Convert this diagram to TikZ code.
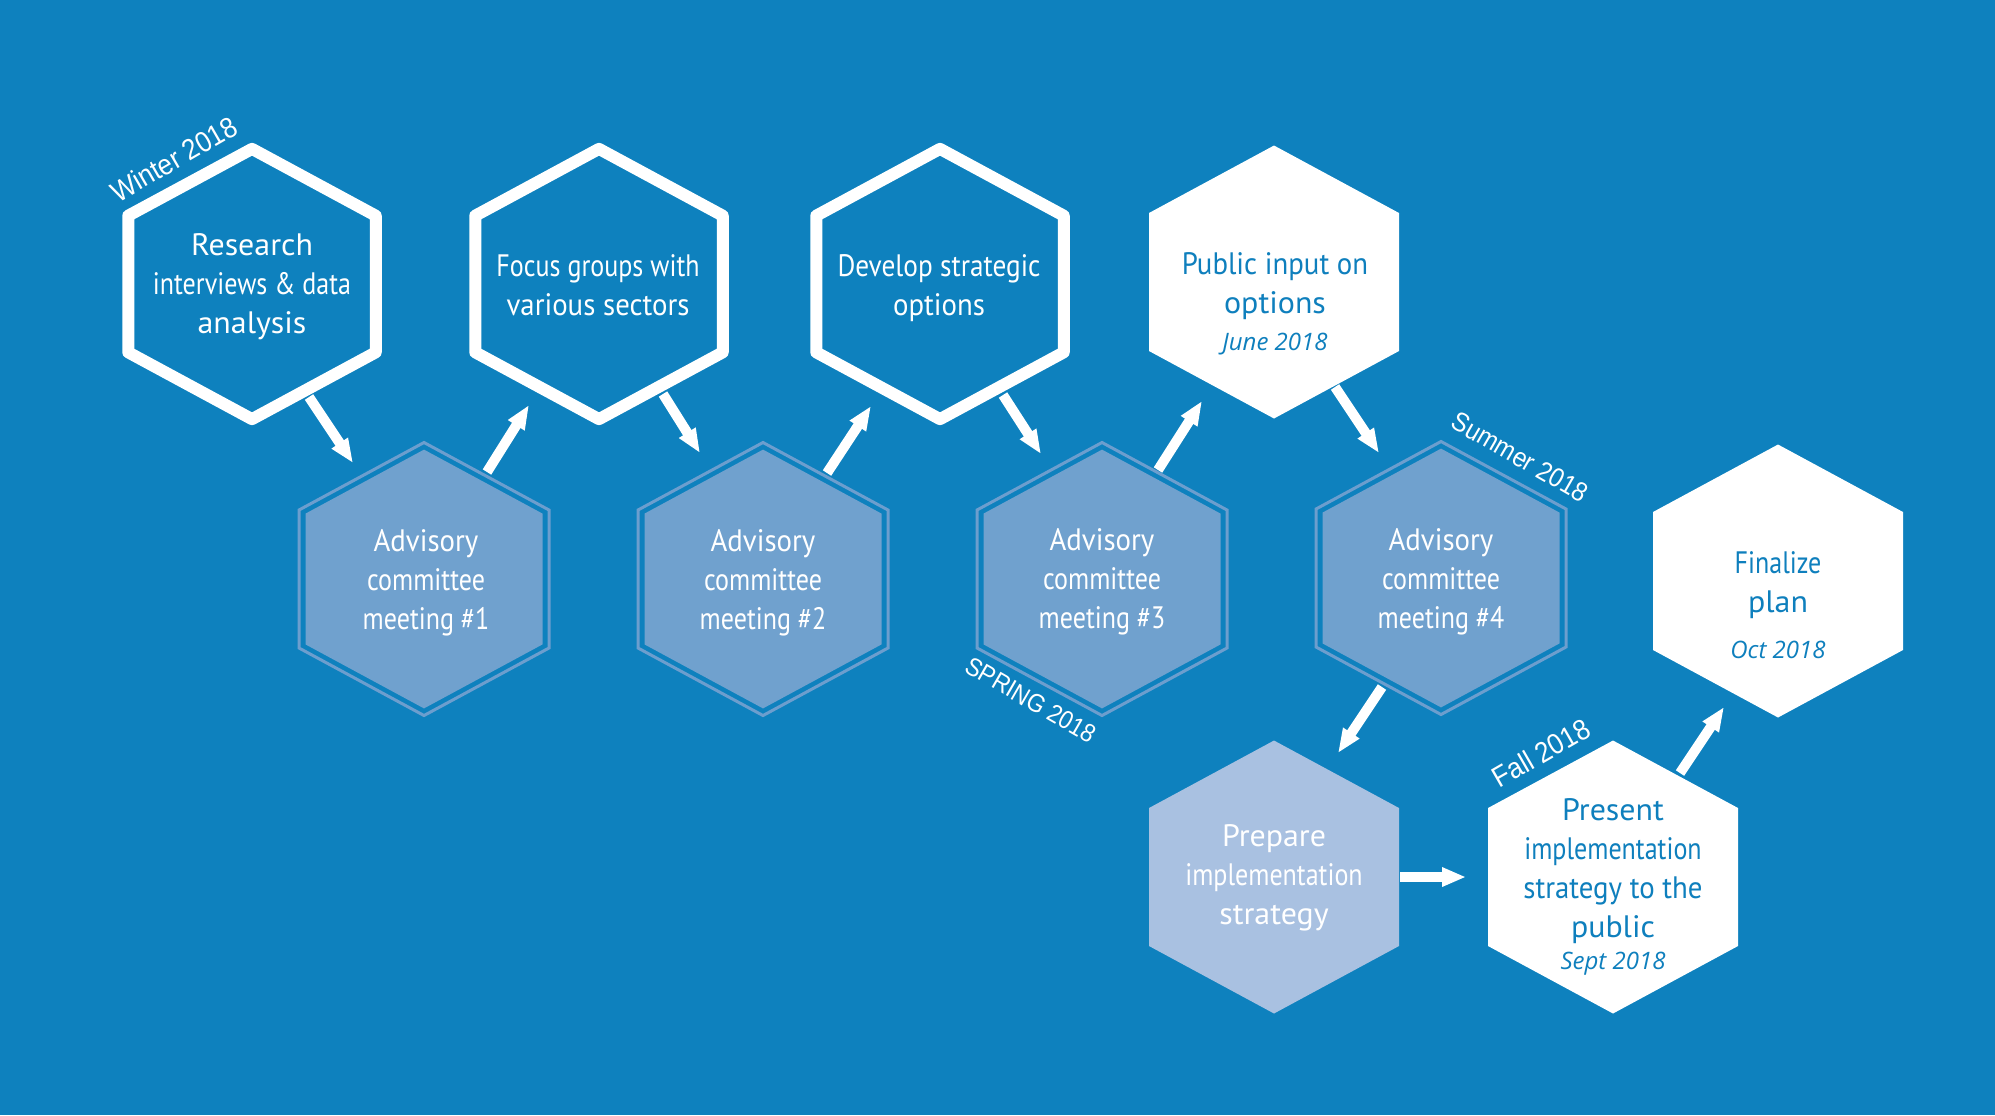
\documentclass[tikz,border=0pt]{standalone}
\usepackage{fontspec}
\usetikzlibrary{calc,arrows.meta}
\newfontfamily\hexfont{PT Sans}[FakeStretch=0.84]
\newfontfamily\midfont{PT Sans}[FakeStretch=0.93]
\newfontfamily\widefont{PT Sans}[FakeStretch=1.03]
\newfontfamily\datefont{Open Sans}
\newfontfamily\seasonfont{Liberation Sans}[FakeStretch=0.9]
\definecolor{bgblue}{RGB}{14,129,190}
\definecolor{advfill}{RGB}{112,161,206}
\definecolor{advring}{RGB}{108,158,206}
\definecolor{prepfill}{RGB}{169,193,225}
\definecolor{txtblue}{RGB}{14,127,189}
\newcommand\hexdraw[3]{\path[#1] ($(#2)+#3*(0,-136.5)$) -- ($(#2)+#3*(125,-69)$) -- ($(#2)+#3*(125,69)$) -- ($(#2)+#3*(0,136.5)$) -- ($(#2)+#3*(-125,69)$) -- ($(#2)+#3*(-125,-69)$) -- cycle;}
\newcommand\W[1]{{\widefont #1}}
\newcommand\M[1]{{\midfont #1}}
\begin{document}
\begin{tikzpicture}[x=0.5pt,y=-0.5pt,
  hexbox/.style={minimum width=125pt, minimum height=136.5pt, inner sep=0pt, outer sep=0pt},
  wtext/.style={font=\hexfont\fontsize{15.5pt}{19.5pt}\selectfont, text=white, align=center, inner sep=0pt},
  btext/.style={wtext, text=txtblue},
  datetext/.style={font=\datefont\itshape\fontsize{12pt}{14pt}\selectfont, text=txtblue, inner sep=0pt, anchor=base},
  season/.style={font=\seasonfont\fontsize{#1}{16pt}\selectfont, text=white, inner sep=0pt},
  outl/.style={draw=white, line width=6pt, line join=round},
  ring/.style={draw=advring, line width=1.5pt},
  arr/.style={draw=white, line width=5pt, -{Triangle[length=12pt,width=9pt]}}]
\fill[bgblue] (0,0) rectangle (1995,1115);
% hexagon anchors
\node[hexbox] (h1) at (252,284) {};
\node[hexbox] (h2) at (599,284) {};
\node[hexbox] (h3) at (940,284) {};
\node[hexbox] (h4) at (1274,282) {};
\node[hexbox] (a1) at (424,579) {};
\node[hexbox] (a2) at (763,579) {};
\node[hexbox] (a3) at (1102,579) {};
\node[hexbox] (a4) at (1441,578) {};
\node[hexbox] (f) at (1778,581) {};
\node[hexbox] (p) at (1274,877) {};
\node[hexbox] (s) at (1613,877) {};
% hexagon shapes
\hexdraw{outl}{h1}{0.99}
\hexdraw{outl}{h2}{0.99}
\hexdraw{outl}{h3}{0.99}
\hexdraw{fill=white}{h4}{1}
\foreach \n in {a1,a2,a3,a4}{
  \hexdraw{ring}{\n}{1}
  \hexdraw{fill=advfill}{\n}{0.948}
}
\hexdraw{fill=white}{f}{1}
\hexdraw{fill=prepfill}{p}{1}
\hexdraw{fill=white}{s}{1}
% arrows
\draw[arr] ($(h1)+(57,113)$) -- ($(a1)+(-71,-116)$);
\draw[arr] ($(a1)+(63,-107)$) -- ($(h2)+(-70,121)$);
\draw[arr] ($(h2)+(64,110)$) -- ($(a2)+(-63,-126)$);
\draw[arr] ($(a2)+(64,-106)$) -- ($(h3)+(-69,122)$);
\draw[arr] ($(h3)+(63,111)$) -- ($(a3)+(-61,-125)$);
\draw[arr] ($(a3)+(56,-109)$) -- ($(h4)+(-72,119)$);
\draw[arr] ($(h4)+(61,105)$) -- ($(a4)+(-62,-125)$);
\draw[arr] ($(a4)+(-59,109)$) -- ($(p)+(64,-124)$);
\draw[arr] ($(p)+(126,0)$) -- ($(s)+(-147,0)$);
\draw[arr] ($(s)+(67,-104)$) -- ($(f)+(-54,126)$);
% texts
\node[wtext] (h1t) at (252,287) {\strut\W{Research}\\interviews \& data\\\W{analysis}\strut};
\node[wtext] (h2t) at (598,288) {\strut Focus groups with\\\M{various sectors}\strut};
\node[wtext] (h3t) at (939,288) {\strut{\fontspec{PT Sans}[FakeStretch=0.88]Develop strategic}\\\M{options}\strut};
\node[btext] (h4t) at (1275,286) {\strut\M{Public input on}\\\W{options}\strut};
\node[datetext] (h4d) at (1275,350) {June 2018};
\node[wtext] (a1t) at (426,583) {\strut\M{Advisory}\\committee\\meeting \#1\strut};
\node[wtext] (a2t) at (763,583) {\strut\M{Advisory}\\committee\\meeting \#2\strut};
\node[wtext] (a3t) at (1102,582) {\strut\M{Advisory}\\committee\\meeting \#3\strut};
\node[wtext] (a4t) at (1441,582) {\strut\M{Advisory}\\committee\\meeting \#4\strut};
\node[btext] (ft) at (1778,585) {\strut Finalize\\\W{plan}\strut};
\node[datetext] (fd) at (1778,658) {Oct 2018};
\node[wtext] (pt) at (1274,878) {\strut\W{Prepare}\\implementation\\\W{strategy}\strut};
\node[btext] (st) at (1613,871) {\strut\W{Present}\\implementation\\\M{strategy to the}\\\W{public}\strut};
\node[datetext] (sd) at (1613,969) {Sept 2018};
% season labels
\node[season=14.5pt, rotate=30] (winter) at (174,159) {Winter 2018};
\node[season=13.5pt, rotate=-30] (summer) at (1520,457) {Summer 2018};
\node[season=12.8pt, rotate=-30] (spring) at (1031,700) {SPRING 2018};
\node[season=14.5pt, rotate=30] (fall) at (1541,753) {Fall 2018};
\end{tikzpicture}
\end{document}
